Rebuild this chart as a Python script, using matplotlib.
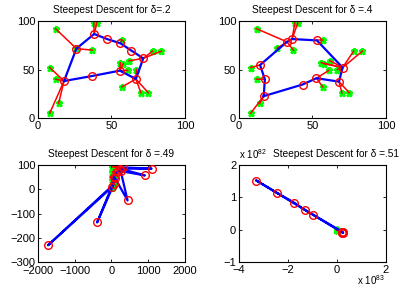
import numpy as np
import matplotlib
matplotlib.use("Agg")
import matplotlib.pyplot as plt
from matplotlib.ticker import FuncFormatter

plt.rcParams['font.family'] = ['Liberation Sans', 'DejaVu Sans']
plt.rcParams['mathtext.fontset'] = 'custom'
plt.rcParams['mathtext.rm'] = 'Liberation Sans'

# cities (same in every panel)
city_x = [12, 38, 40, 26, 37, 57, 78, 84, 62, 56, 58, 61, 67, 8, 12, 14, 8, 57, 70, 75]
city_y = [92, 98, 98, 72, 70, 80, 69, 69, 59, 57, 56, 49, 50, 52, 40, 15, 5, 32, 26, 26]

# delta = .2
net1_x = [17.7, 26.1, 38.2, 47.0, 56.1, 63.6, 71.6, 66.6, 55.7, 36.8]
net1_y = [38.1, 71.5, 86.6, 81.4, 77.0, 69.4, 61.5, 40.2, 48.8, 43.3]
link1 = [1, 2, 2, 1, 1, 4, 6, 6, 6, 8, 8, 8, 7, 0, 0, 0, 0, 7, 7, 7]

# delta = .4
net2_x = [16.8, 17.6, 14.3, 32.6, 36.1, 53.0, 70.5, 68.0, 52.7, 43.2]
net2_y = [22.5, 39.9, 54.6, 78.5, 81.4, 80.0, 52.0, 37.5, 41.0, 34.5]
link2 = [3, 4, 4, 3, 3, 5, 6, 6, 6, 6, 6, 8, 6, 2, 1, 0, 0, 8, 7, 7]

# delta = .49
net3_x = [20, -1727, 60, -391, 100, 437, 250, 909, 230, 1091, 300, 150, 60]
net3_y = [10, -231, 20, -137, 45, -46, 75, 57, 85, 85, 90, 70, 50]
link3 = [10, 8, 8, 11, 11, 10, 6, 6, 6, 6, 6, 4, 4, 12, 12, 2, 0, 4, 4, 4]

# delta = .51
net4_x = [-3.29e83, -2.43e83, -1.76e83, -1.31e83, -0.97e83, 0.20e83, 0.23e83, 0.25e83, 0.22e83]
net4_y = [1.52e82, 1.13e82, 0.84e82, 0.61e82, 0.46e82, -0.06e82, -0.08e82, -0.10e82, -0.09e82]
link4 = [5, 6, 6, 5, 5, 6, 7, 7, 7, 8, 8, 8, 8, 5, 5, 6, 6, 7, 7, 7]


def draw(ax, nx, ny, link):
    nx = np.array(nx)
    ny = np.array(ny)
    ax.plot(city_x, city_y, '*', color=(0, 1, 0), ms=5, mew=1.8, zorder=1)
    for i in range(len(city_x)):
        ax.plot([city_x[i], nx[link[i]]], [city_y[i], ny[link[i]]], '-',
                color='r', lw=1.1, zorder=2)
    ax.plot(np.append(nx, nx[0]), np.append(ny, ny[0]), '-', color='b', lw=1.6, zorder=3)
    ax.plot(nx, ny, 'o', mfc='none', mec='r', ms=5.5, mew=1.0, zorder=4)


def style(ax):
    ax.tick_params(direction='in', length=2.5, width=0.6, labelsize=8, pad=2,
                   top=True, right=True)
    for s in ax.spines.values():
        s.set_linewidth(0.8)


minus = lambda v: ('%g' % v).replace('-', '\u2212')

fig = plt.figure(figsize=(4.06, 2.95), dpi=100)
W, H = 406.0, 295.0
ax1 = fig.add_axes([38 / W, 1 - 118 / H, 147 / W, 97 / H])
ax2 = fig.add_axes([239 / W, 1 - 118 / H, 147 / W, 97 / H])
ax3 = fig.add_axes([38 / W, 1 - 262 / H, 147 / W, 97 / H])
ax4 = fig.add_axes([239 / W, 1 - 262 / H, 147 / W, 97 / H])

draw(ax1, net1_x, net1_y, link1)
ax1.set_xlim(0, 100)
ax1.set_ylim(0, 100)
ax1.set_xticks([0, 50, 100])
ax1.set_yticks([0, 50, 100])
ax1.set_title('Steepest Descent for \u03b4=.2', fontsize=7.3, pad=5.5)

draw(ax2, net2_x, net2_y, link2)
ax2.set_xlim(0, 100)
ax2.set_ylim(0, 100)
ax2.set_xticks([0, 50, 100])
ax2.set_yticks([0, 50, 100])
ax2.set_title('Steepest Descent for \u03b4 =.4', fontsize=7.3, pad=5.5)

draw(ax3, net3_x, net3_y, link3)
ax3.set_xlim(-2000, 2000)
ax3.set_ylim(-300, 100)
ax3.set_xticks([-2000, -1000, 0, 1000, 2000])
ax3.set_yticks([-300, -200, -100, 0, 100])
ax3.xaxis.set_major_formatter(FuncFormatter(lambda v, p: minus(v)))
ax3.yaxis.set_major_formatter(FuncFormatter(lambda v, p: minus(v)))
ax3.tick_params(axis='x', pad=3)
ax3.set_title('Steepest Descent for \u03b4 =.49', fontsize=7.3, pad=6)

draw(ax4, net4_x, net4_y, link4)
ax4.set_xlim(-4e83, 2e83)
ax4.set_ylim(-1e82, 2e82)
ax4.set_xticks([-4e83, -2e83, 0, 2e83])
ax4.set_yticks([-1e82, 0, 1e82, 2e82])
ax4.xaxis.set_major_formatter(FuncFormatter(lambda v, p: minus(round(v / 1e83))))
ax4.yaxis.set_major_formatter(FuncFormatter(lambda v, p: minus(round(v / 1e82))))
ax4.text(0.23, 1.085, 'Steepest Descent for \u03b4 =.51', fontsize=7.3,
         transform=ax4.transAxes, ha='left', va='baseline')
ax4.text(0.0, 1.04, 'x 10$^{82}$', fontsize=7, transform=ax4.transAxes,
         ha='left', va='bottom')
ax4.text(0.80, -0.26, 'x 10$^{83}$', fontsize=7, transform=ax4.transAxes,
         ha='left', va='bottom')

for ax in (ax1, ax2, ax3, ax4):
    style(ax)
ax3.tick_params(axis='x', pad=3)

fig.savefig('out.png', dpi=100)
